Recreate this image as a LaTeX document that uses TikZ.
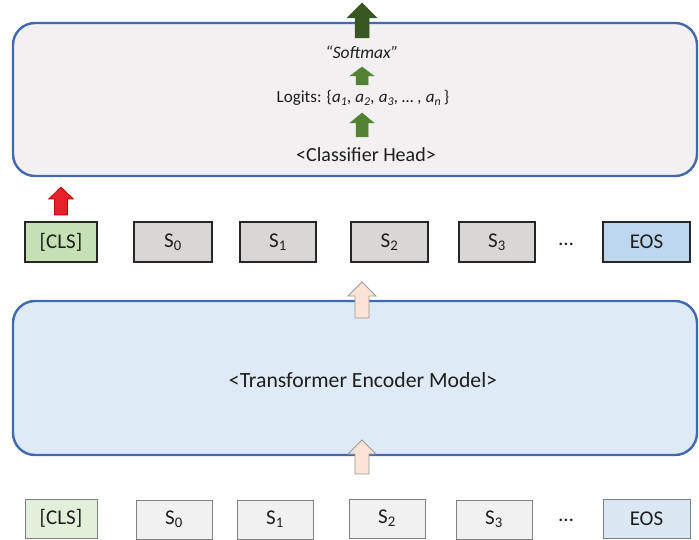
\documentclass[tikz,border=0pt]{standalone}
\usepackage{fontspec}
\setmainfont{Carlito}

\definecolor{frameblue}{HTML}{4169B0}
\definecolor{headfill}{HTML}{F2F0F0}
\definecolor{encfill}{HTML}{DEEAF6}
\definecolor{tokgray}{HTML}{D9D6D6}
\definecolor{tokgreen}{HTML}{C5E0B3}
\definecolor{tokblue}{HTML}{BDD7EE}
\definecolor{intgray}{HTML}{F2F1F1}
\definecolor{intgreen}{HTML}{E2EFD9}
\definecolor{intblue}{HTML}{DAE8F4}
\definecolor{darkgreen}{HTML}{385723}
\definecolor{midgreen}{HTML}{548235}
\definecolor{redarrow}{HTML}{E8202A}
\definecolor{peach}{HTML}{FBE4D5}
\definecolor{textgray}{HTML}{1E1E1E}

\tikzset{
  bigpanel/.style={draw=frameblue, line width=2.4pt, rounded corners=22pt},
  outtok/.style={draw=black!85, line width=1.2pt, text=textgray, font=\fontsize{21}{23}\selectfont},
  intok/.style={draw=black!50, line width=0.9pt, text=textgray, font=\fontsize{21}{23}\selectfont},
  toklabel/.style={text=textgray, font=\fontsize{21}{23}\selectfont},
  greenhead/.style={fill=darkgreen, draw=darkgreen, line width=0.5pt},
  greenstep/.style={fill=midgreen, draw=midgreen, line width=0.5pt},
  redup/.style={fill=redarrow, draw=red!70!black, line width=0.6pt},
  peachup/.style={fill=peach, draw=black!40, line width=0.8pt},
}

% token box from (x1,y1) to (x2,y2)
\newcommand{\tokbox}[7]{%
  \node[#1, fill=#2, minimum width=#5pt-#3pt, minimum height=#6pt-#4pt, inner sep=0pt]
    (#7) at ({(#3+#5)/2},{(#4+#6)/2}) {};
}

% upward block arrow: style, centre x, tail y, tip y, shaft width, head width, head length
\newcommand{\blockup}[7]{%
  \draw[#1] ({#2-#5/2},#3) -- ({#2-#5/2},{#4+#7}) -- ({#2-#6/2},{#4+#7}) -- (#2,#4)
    -- ({#2+#6/2},{#4+#7}) -- ({#2+#5/2},{#4+#7}) -- ({#2+#5/2},#3) -- cycle;
}

\begin{document}
\begin{tikzpicture}[x=1pt, y=-1pt]
\useasboundingbox (0,0) rectangle (699,540);

% classifier head panel
\draw[bigpanel, fill=headfill] (13,23) rectangle (697,176);
\node (headlbl) at (366,155) [text=textgray, font=\fontsize{20}{22}\selectfont] {<Classifier Head>};
\node (logits) at (363,98) [text=textgray, font=\fontsize{17}{19}\selectfont]
  {Logits: \{\textit{a\textsubscript{1}, a\textsubscript{2}, a\textsubscript{3}, … , a\textsubscript{n}}\,\}};
\node (softmax) at (362,52) [text=textgray, font=\fontsize{17.5}{20}\selectfont\itshape] {“Softmax”};

\blockup{greenhead}{362}{38}{3}{14}{30}{15}
\blockup{greenstep}{362}{85}{67}{12}{24}{9}
\blockup{greenstep}{362}{137}{113}{12}{24}{10}

% encoder outputs
\tokbox{outtok}{tokgreen}{25}{222}{97}{262}{oCLS}
\tokbox{outtok}{tokgray}{134}{222}{212}{262}{oS0}
\tokbox{outtok}{tokgray}{240}{222}{316}{262}{oS1}
\tokbox{outtok}{tokgray}{351}{222}{428}{262}{oS2}
\tokbox{outtok}{tokgray}{459}{222}{535}{262}{oS3}
\tokbox{outtok}{tokblue}{603}{222}{690}{262}{oEOS}
\node[toklabel] at (oCLS) {[CLS]};
\node[toklabel] at (oS0) {S\textsubscript{0}};
\node[toklabel] at (oS1) {S\textsubscript{1}};
\node[toklabel] at (oS2) {S\textsubscript{2}};
\node[toklabel] at (oS3) {S\textsubscript{3}};
\node[toklabel] at (oEOS) {EOS};
\node[toklabel] (oDots) at (566,244) {…};

\blockup{redup}{61}{215}{187}{13}{25}{12}

% encoder panel
\draw[bigpanel, fill=encfill] (13,301) rectangle (697,455);
\node (enc) at (363,380) [text=textgray, font=\fontsize{21.7}{24}\selectfont] {<Transformer Encoder Model>};

\blockup{peachup}{362}{318}{282}{14}{28}{14}
\blockup{peachup}{362}{474}{440}{14}{28}{14}

% encoder inputs
\tokbox{intok}{intgreen}{25}{499}{97}{538}{iCLS}
\tokbox{intok}{intgray}{136}{500}{212}{539}{iS0}
\tokbox{intok}{intgray}{237}{500}{313}{539}{iS1}
\tokbox{intok}{intgray}{349}{499}{425}{538}{iS2}
\tokbox{intok}{intgray}{456}{500}{532}{539}{iS3}
\tokbox{intok}{intblue}{603}{499}{690}{538}{iEOS}
\node[toklabel] at (iCLS) {[CLS]};
\node[toklabel] at (iS0) {S\textsubscript{0}};
\node[toklabel] at (iS1) {S\textsubscript{1}};
\node[toklabel] at (iS2) {S\textsubscript{2}};
\node[toklabel] at (iS3) {S\textsubscript{3}};
\node[toklabel] at (iEOS) {EOS};
\node[toklabel] (iDots) at (566,520) {…};
\end{tikzpicture}
\end{document}
